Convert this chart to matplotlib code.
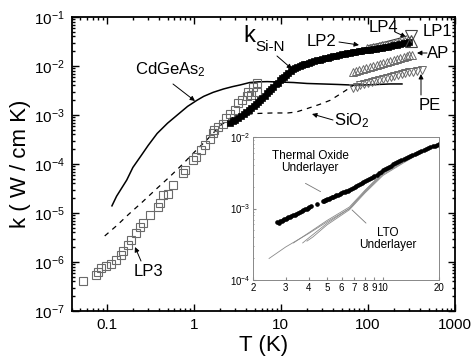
import matplotlib
matplotlib.use("Agg")
import matplotlib.pyplot as plt
from matplotlib.ticker import LogLocator, NullFormatter, FixedLocator, FixedFormatter

plt.rcParams['font.family'] = ['Liberation Sans', 'DejaVu Sans']
plt.rcParams['mathtext.fontset'] = 'custom'
plt.rcParams['mathtext.rm'] = 'Liberation Sans'
plt.rcParams['mathtext.it'] = 'Liberation Sans:italic'
plt.rcParams['mathtext.bf'] = 'Liberation Sans:bold'

# ---------------- main data ----------------
cdgeas_T = [0.115, 0.13, 0.15, 0.17, 0.2, 0.25, 0.3, 0.38, 0.5, 0.69, 0.85, 1.09, 1.3, 1.67,
            2.2, 2.8, 3.4, 4.4, 5.5, 7, 10, 14, 20, 30, 45, 63, 90, 130, 180, 246]
cdgeas_k = [1.4e-5, 2.2e-5, 3.3e-5, 4.7e-5, 8.5e-5, 1.5e-4, 2.4e-4, 4.2e-4, 6.8e-4, 1.1e-3,
            1.5e-3, 2.0e-3, 2.4e-3, 2.9e-3, 3.4e-3, 3.8e-3, 4.1e-3, 4.6e-3, 4.75e-3, 4.8e-3,
            4.7e-3, 4.6e-3, 4.4e-3, 4.3e-3, 4.2e-3, 4.1e-3, 4.1e-3, 4.2e-3, 4.3e-3, 4.3e-3]

sio2_T = [0.095, 0.13, 0.18, 0.25, 0.35, 0.53, 0.75, 1.0, 1.46, 2.0, 2.6, 3.5, 5, 8, 12, 15,
          20, 28, 37, 50, 65, 80]
sio2_k = [3.4e-6, 5.5e-6, 9.5e-6, 1.6e-5, 2.8e-5, 5.5e-5, 1.0e-4, 1.7e-4, 3.3e-4, 6.0e-4,
          8.5e-4, 1.0e-3, 1.07e-3, 1.1e-3, 1.1e-3, 1.15e-3, 1.35e-3, 1.65e-3, 2.0e-3, 2.8e-3,
          3.8e-3, 5.0e-3]

lp3_T = [0.053, 0.076, 0.080, 0.087, 0.099, 0.113, 0.129, 0.148, 0.154, 0.176, 0.192, 0.219,
         0.24, 0.26, 0.312, 0.388, 0.406, 0.443, 0.506, 0.58, 0.753, 0.79, 0.98, 1.07, 1.22,
         1.33, 1.52, 1.66, 1.73, 1.9, 2.17, 2.37, 2.59, 2.96, 3.23, 3.54, 4.04, 4.22, 4.6,
         4.8, 5.26, 5.26]
lp3_k = [4.0e-7, 5.4e-7, 6.3e-7, 7.4e-7, 8.3e-7, 9.3e-7, 1.1e-6, 1.4e-6, 1.7e-6, 2.2e-6,
         2.8e-6, 3.9e-6, 5.3e-6, 6.2e-6, 9.1e-6, 1.35e-5, 1.6e-5, 2.3e-5, 2.4e-5, 3.7e-5,
         6.5e-5, 7.6e-5, 1.2e-4, 1.4e-4, 1.9e-4, 2.5e-4, 3.3e-4, 4.3e-4, 4.9e-4, 5.7e-4,
         6.7e-4, 8.5e-4, 1.07e-3, 1.26e-3, 1.73e-3, 2.0e-3, 2.4e-3, 3.0e-3, 2.6e-3, 3.8e-3,
         4.4e-3, 3.0e-3]

sin_T = [2.6, 2.8, 3.0, 3.25, 3.5, 3.75, 4.0, 4.3, 4.6, 4.9, 5.2, 5.5, 5.8, 6.15, 6.5, 6.9,
         7.3, 7.75, 8.2, 8.7, 9.2, 9.75, 10.3, 10.9, 11.5, 12.2, 13.0, 13.8, 14.6, 15.5, 16.5,
         17.5, 18.5, 19.7, 21, 22.5, 24, 26, 28, 30, 32, 34.5, 37, 40, 43, 46, 50, 54, 58, 62,
         67, 72, 78, 84, 90, 98, 106, 115, 125, 135, 145, 157, 170, 185, 200, 217, 235, 258,
         282, 300]
sin_k = [6.9e-4, 7.4e-4, 8.0e-4, 8.7e-4, 9.5e-4, 1.05e-3, 1.15e-3, 1.27e-3, 1.4e-3, 1.55e-3,
         1.7e-3, 1.85e-3, 2.0e-3, 2.25e-3, 2.5e-3, 2.8e-3, 3.1e-3, 3.45e-3, 3.8e-3, 4.2e-3,
         4.6e-3, 5.1e-3, 5.6e-3, 6.1e-3, 6.6e-3, 7.2e-3, 7.9e-3, 8.5e-3, 9.1e-3, 9.6e-3,
         1.0e-2, 1.04e-2, 1.08e-2, 1.12e-2, 1.16e-2, 1.2e-2, 1.25e-2, 1.3e-2, 1.35e-2, 1.4e-2,
         1.44e-2, 1.49e-2, 1.53e-2, 1.58e-2, 1.63e-2, 1.67e-2, 1.72e-2, 1.77e-2, 1.82e-2,
         1.86e-2, 1.9e-2, 1.95e-2, 2.0e-2, 2.04e-2, 2.08e-2, 2.12e-2, 2.16e-2, 2.21e-2, 2.26e-2,
         2.32e-2, 2.38e-2, 2.44e-2, 2.5e-2, 2.57e-2, 2.65e-2, 2.72e-2, 2.8e-2, 2.88e-2, 2.95e-2,
         3.05e-2]

lp2_T = [98, 106, 115, 125, 135, 147, 160, 175, 190, 205, 220, 235, 250, 268, 285]
lp2_k = [2.45e-2, 2.5e-2, 2.55e-2, 2.62e-2, 2.7e-2, 2.77e-2, 2.85e-2, 2.93e-2, 3.0e-2,
         3.08e-2, 3.15e-2, 3.22e-2, 3.3e-2, 3.4e-2, 3.5e-2]

lp4_T = [100, 130, 170, 220, 280]
lp4_k = [2.6e-2, 2.85e-2, 3.2e-2, 3.6e-2, 4.1e-2]

lp1_T = [315, 315]
lp1_k = [4.0e-2, 3.3e-2]

ap_T = [67, 73, 80, 88, 96, 105, 115, 126, 138, 150, 164, 180, 197, 215, 235, 257, 280, 300, 323]
ap_k = [7.5e-3, 7.8e-3, 8.2e-3, 8.6e-3, 9.0e-3, 9.5e-3, 1.0e-2, 1.05e-2, 1.1e-2, 1.15e-2,
        1.2e-2, 1.26e-2, 1.32e-2, 1.38e-2, 1.45e-2, 1.52e-2, 1.6e-2, 1.65e-2, 1.7e-2]

pe_T = [67, 74, 82, 90, 100, 110, 122, 135, 150, 165, 182, 200, 222, 245, 270, 300, 330, 370, 420]
pe_k = [3.6e-3, 3.8e-3, 4.0e-3, 4.25e-3, 4.5e-3, 4.75e-3, 5.0e-3, 5.25e-3, 5.5e-3, 5.75e-3,
        6.0e-3, 6.25e-3, 6.5e-3, 6.8e-3, 7.1e-3, 7.4e-3, 7.7e-3, 8.0e-3, 8.3e-3]

x_ticks = [0.1, 1, 10, 100, 1000]
x_ticklabels = ['0.1', '1', '10', '100', '1000']

# ---------------- inset data ----------------
th_T = [2.7, 2.75, 2.8, 2.85, 2.9, 2.95, 3.0, 3.05, 3.1, 3.15, 3.2, 3.28, 3.35, 3.42, 3.5,
        3.58, 3.65, 3.72, 3.8, 3.88, 3.95, 4.02, 4.1, 4.4, 4.75, 4.8, 4.85, 4.92, 5.0, 5.1,
        5.2, 5.3, 5.4, 5.5, 5.6, 5.72, 5.85, 5.97, 6.1, 6.22, 6.35, 6.47, 6.6, 6.75, 6.9, 7.05,
        7.2, 7.35, 7.5, 7.68, 7.85, 8.02, 8.2, 8.4, 8.6, 8.8, 9.0, 9.25, 9.5, 9.75, 10, 10.25,
        10.5, 10.75, 11, 11.3, 11.6, 11.9, 12.2, 12.55, 12.9, 13.25, 13.6, 14.0, 14.4, 14.8,
        15.2, 15.65, 16.1, 16.55, 17, 17.5, 18, 18.5, 19, 19.5, 20]
th_k = [6.5e-4, 6.3e-4, 6.6e-4, 6.75e-4, 6.9e-4, 7.05e-4, 7.2e-4, 7.35e-4, 7.5e-4, 7.65e-4,
        7.8e-4, 8.0e-4, 8.2e-4, 8.45e-4, 8.7e-4, 8.95e-4, 9.2e-4, 9.45e-4, 9.7e-4, 9.95e-4,
        1.02e-3, 1.045e-3, 1.07e-3, 1.15e-3, 1.27e-3, 1.285e-3, 1.3e-3, 1.32e-3, 1.34e-3,
        1.37e-3, 1.4e-3, 1.43e-3, 1.46e-3, 1.49e-3, 1.52e-3, 1.56e-3, 1.6e-3, 1.64e-3, 1.68e-3,
        1.715e-3, 1.75e-3, 1.785e-3, 1.82e-3, 1.875e-3, 1.93e-3, 1.99e-3, 2.05e-3, 2.11e-3,
        2.17e-3, 2.245e-3, 2.32e-3, 2.395e-3, 2.47e-3, 2.56e-3, 2.65e-3, 2.75e-3, 2.85e-3,
        2.98e-3, 3.12e-3, 3.28e-3, 3.45e-3, 3.58e-3, 3.72e-3, 3.85e-3, 3.98e-3, 4.13e-3,
        4.28e-3, 4.43e-3, 4.58e-3, 4.75e-3, 4.92e-3, 5.08e-3, 5.25e-3, 5.42e-3, 5.6e-3,
        5.78e-3, 5.95e-3, 6.15e-3, 6.35e-3, 6.55e-3, 6.75e-3, 6.98e-3, 7.2e-3, 7.4e-3,
        7.6e-3, 7.8e-3, 8.0e-3]

lto_T = [
    [2.44, 3, 4, 5, 6.6, 8, 10, 13, 16, 20],
    [3.3, 4, 5, 6.6, 8, 10, 13, 16, 20],
    [3.7, 4, 5, 6.6, 8, 10, 13, 16, 20],
    [3.9, 4.2, 5, 6.6, 8, 10, 13, 16, 20],
]
lto_k = [
    [2.0e-4, 2.9e-4, 4.5e-4, 6.5e-4, 1.0e-3, 1.75e-3, 3.1e-3, 4.6e-3, 6.2e-3, 7.9e-3],
    [3.3e-4, 4.6e-4, 6.8e-4, 1.05e-3, 1.8e-3, 3.2e-3, 4.7e-3, 6.2e-3, 7.9e-3],
    [3.3e-4, 3.9e-4, 6.2e-4, 1.0e-3, 1.7e-3, 3.0e-3, 4.5e-3, 6.1e-3, 7.9e-3],
    [3.5e-4, 4.0e-4, 5.9e-4, 9.6e-4, 1.65e-3, 2.9e-3, 4.4e-3, 6.0e-3, 7.9e-3],
]
in_x_ticks = [2, 3, 4, 5, 6, 7, 8, 9, 10, 20]
in_x_labels = ['2', '3', '4', '5', '6', '7', '8', '9', '10', '20']

# ---------------- figure ----------------
fig = plt.figure(figsize=(4.74, 3.64), dpi=100)
W, H = 474, 364
L, R, T_, B = 72, 455, 17, 311
ax = fig.add_axes([L / W, (H - B) / H, (R - L) / W, (B - T_) / H])
ax.set_xscale('log')
ax.set_yscale('log')
ax.set_xlim(0.04, 1000)
ax.set_ylim(1e-7, 1e-1)

grey = '#6a6a6a'
ax.plot(cdgeas_T, cdgeas_k, color='black', lw=1.1, zorder=3)
ax.plot(sio2_T, sio2_k, color='black', lw=0.9, ls=(0, (4, 4)), zorder=3)
ax.plot(lp3_T, lp3_k, ls='none', marker='s', ms=5.5, mfc='none', mec=grey, mew=0.8, zorder=4)
ax.plot(sin_T, sin_k, ls='none', marker='s', ms=4.2, mfc='black', mec='black', mew=0.5, zorder=5)
ax.plot(lp4_T, lp4_k, color='#333333', lw=0.8, zorder=4)
ax.plot(lp2_T, lp2_k, ls='none', marker='^', ms=5, mfc='none', mec=grey, mew=0.7, zorder=4)
ax.plot(lp1_T[:1], lp1_k[:1], ls='none', marker='v', ms=8, mfc='none', mec='#444444', mew=0.8, zorder=6)
ax.plot(lp1_T[1:], lp1_k[1:], ls='none', marker='^', ms=8, mfc='none', mec='#444444', mew=0.8, zorder=6)
ax.plot(ap_T, ap_k, ls='none', marker='^', ms=6, mfc='none', mec=grey, mew=0.7, zorder=4)
ax.plot(pe_T, pe_k, ls='none', marker='v', ms=6, mfc='none', mec=grey, mew=0.7, zorder=4)

ax.xaxis.set_major_locator(FixedLocator(x_ticks))
ax.xaxis.set_major_formatter(FixedFormatter(x_ticklabels))
ax.xaxis.set_minor_locator(LogLocator(base=10, subs=range(2, 10), numticks=20))
ax.xaxis.set_minor_formatter(NullFormatter())
ax.yaxis.set_major_locator(LogLocator(base=10, numticks=20))
ax.yaxis.set_minor_locator(LogLocator(base=10, subs=range(2, 10), numticks=20))
ax.yaxis.set_minor_formatter(NullFormatter())
ax.tick_params(which='both', direction='in', top=True, right=True, width=1)
ax.tick_params(which='major', length=5, labelsize=11, pad=5)
ax.tick_params(which='minor', length=2.5)
for s in ax.spines.values():
    s.set_linewidth(1.3)

ax.set_xlabel('T (K)', fontsize=16, labelpad=2)
ax.set_ylabel('k ( W / cm K)', fontsize=16, labelpad=2)


def fa(x, y):
    return ((x - L) / (R - L), (B - y) / (B - T_))


arrow = dict(arrowstyle='-|>', color='black', lw=0.7, mutation_scale=7, shrinkA=0, shrinkB=0)
fs = 12
ax.text(*fa(170, 70), 'CdGeAs$_2$', transform=ax.transAxes, fontsize=fs, ha='center', va='center')
ax.annotate('', xy=fa(195, 101), xytext=fa(173, 84), xycoords='axes fraction', arrowprops=arrow)
ax.text(*fa(249, 36), 'k', transform=ax.transAxes, fontsize=17, ha='center', va='center')
ax.text(*fa(255, 47), 'Si-N', transform=ax.transAxes, fontsize=11, ha='left', va='center')
ax.annotate('', xy=fa(292, 69), xytext=fa(277, 56), xycoords='axes fraction', arrowprops=arrow)
ax.text(*fa(322, 42), 'LP2', transform=ax.transAxes, fontsize=fs, ha='center', va='center')
ax.annotate('', xy=fa(359, 45), xytext=fa(339, 42), xycoords='axes fraction', arrowprops=arrow)
ax.text(*fa(383, 27), 'LP4', transform=ax.transAxes, fontsize=fs, ha='center', va='center')
ax.annotate('', xy=fa(406, 37), xytext=fa(395, 32), xycoords='axes fraction', arrowprops=arrow)
ax.text(*fa(437, 32), 'LP1', transform=ax.transAxes, fontsize=fs, ha='center', va='center')
ax.text(*fa(438, 53), 'AP', transform=ax.transAxes, fontsize=fs, ha='center', va='center')
ax.annotate('', xy=fa(417, 53), xytext=fa(427, 53), xycoords='axes fraction', arrowprops=arrow)
ax.text(*fa(430, 105), 'PE', transform=ax.transAxes, fontsize=fs, ha='center', va='center')
ax.annotate('', xy=fa(421, 74), xytext=fa(421, 95), xycoords='axes fraction', arrowprops=arrow)
ax.text(*fa(352, 121), 'SiO$_2$', transform=ax.transAxes, fontsize=fs, ha='center', va='center')
ax.annotate('', xy=fa(312, 114), xytext=fa(333, 120), xycoords='axes fraction', arrowprops=arrow)
ax.text(*fa(148, 271), 'LP3', transform=ax.transAxes, fontsize=fs, ha='center', va='center')
ax.annotate('', xy=fa(135, 247), xytext=fa(141, 261), xycoords='axes fraction', arrowprops=arrow)

# ---------------- inset ----------------
iL, iR, iT, iB = 253, 439, 137, 280
ax2 = fig.add_axes([iL / W, (H - iB) / H, (iR - iL) / W, (iB - iT) / H])
ax2.set_xscale('log')
ax2.set_yscale('log')
ax2.set_xlim(2, 20)
ax2.set_ylim(1e-4, 1e-2)
for tt, kk in zip(lto_T, lto_k):
    ax2.plot(tt, kk, color='#8a8a8a', lw=0.6)
ax2.plot(th_T, th_k, ls='none', marker='o', ms=2.3, color='black')
ax2.xaxis.set_major_locator(FixedLocator(in_x_ticks))
ax2.xaxis.set_major_formatter(FixedFormatter(in_x_labels))
ax2.xaxis.set_minor_locator(FixedLocator([]))
ax2.yaxis.set_major_locator(LogLocator(base=10, numticks=10))
ax2.yaxis.set_minor_locator(LogLocator(base=10, subs=range(2, 10), numticks=10))
ax2.yaxis.set_minor_formatter(NullFormatter())
ax2.tick_params(which='both', direction='in', labelsize=7, color='#888888', pad=2)
ax2.tick_params(which='major', length=2)
ax2.tick_params(which='minor', length=1)
for s in ax2.spines.values():
    s.set_color('#888888')
    s.set_linewidth(0.7)


def fi(x, y):
    return ((x - iL) / (iR - iL), (iB - y) / (iB - iT))


ax2.text(*fi(310, 162), 'Thermal Oxide\nUnderlayer', transform=ax2.transAxes, fontsize=8.5,
         ha='center', va='center', linespacing=1.05)
ax2.annotate('', xy=fi(323, 193), xytext=fi(303, 182), xycoords='axes fraction',
             arrowprops=dict(arrowstyle='-', color='#777777', lw=0.6))
ax2.text(*fi(388, 239), 'LTO\nUnderlayer', transform=ax2.transAxes, fontsize=8.5,
         ha='center', va='center', linespacing=1.05)
ax2.annotate('', xy=fi(350, 208), xytext=fi(368, 225), xycoords='axes fraction',
             arrowprops=dict(arrowstyle='-', color='#777777', lw=0.6))

fig.savefig('out.png', dpi=100)
